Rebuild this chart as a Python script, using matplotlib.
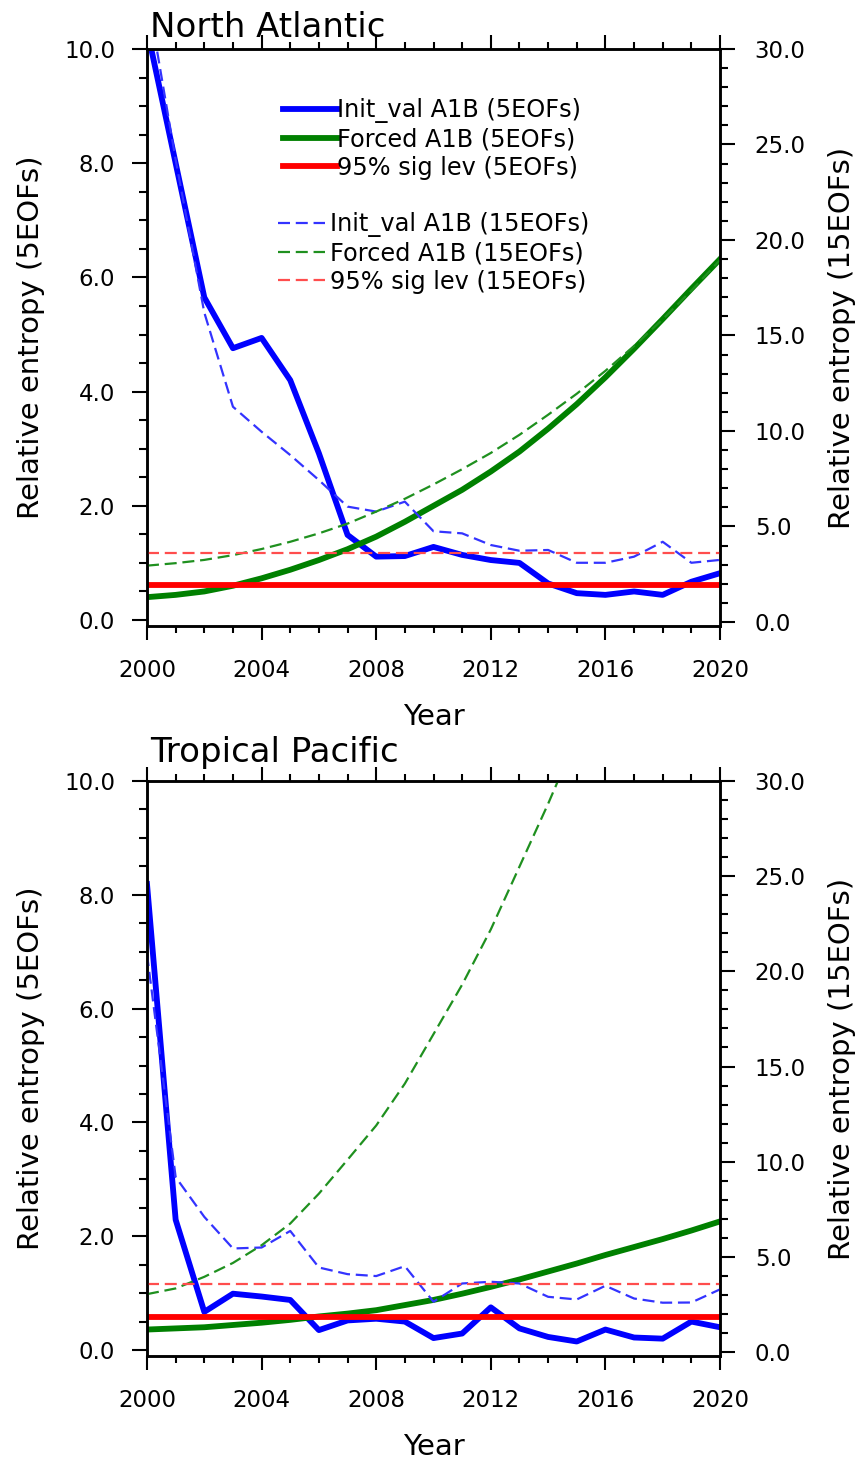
import numpy as np
import matplotlib
matplotlib.use("Agg")
import matplotlib.pyplot as plt
from matplotlib.ticker import MultipleLocator, FormatStrFormatter

# values
years = list(range(2000, 2021))

# North Atlantic, left scale (5 EOFs)
na_init5 = [10.35, 8.0, 5.65, 4.76, 4.94, 4.2, 2.92, 1.49, 1.11, 1.12, 1.28,
            1.14, 1.05, 1.0, 0.64, 0.47, 0.44, 0.5, 0.44, 0.67, 0.82]
na_forced5 = [0.40, 0.44, 0.50, 0.60, 0.73, 0.88, 1.05, 1.24, 1.46, 1.72, 2.0,
              2.28, 2.6, 2.95, 3.35, 3.78, 4.25, 4.75, 5.27, 5.8, 6.32]
na_sig5 = 0.61
# North Atlantic, right scale (15 EOFs)
na_init15 = [33.0, 24.2, 16.2, 11.27, 9.96, 8.74, 7.43, 6.04, 5.78, 6.3, 4.75,
             4.64, 4.03, 3.73, 3.77, 3.1, 3.1, 3.42, 4.2, 3.1, 3.25]
na_forced15 = [2.95, 3.08, 3.25, 3.5, 3.82, 4.2, 4.64, 5.15, 5.78, 6.45, 7.2,
               8.0, 8.85, 9.8, 10.85, 11.95, 13.15, 14.45, 15.85, 17.35, 18.95]
na_sig15 = 3.6

# Tropical Pacific, left scale (5 EOFs)
tp_init5 = [8.19, 2.29, 0.67, 0.99, 0.94, 0.88, 0.35, 0.52, 0.55, 0.50, 0.21,
            0.29, 0.75, 0.38, 0.23, 0.15, 0.36, 0.22, 0.20, 0.50, 0.40]
tp_forced5 = [0.36, 0.38, 0.40, 0.44, 0.48, 0.53, 0.59, 0.64, 0.70, 0.79, 0.88,
              0.99, 1.11, 1.24, 1.38, 1.52, 1.67, 1.81, 1.95, 2.10, 2.26]
tp_sig5 = 0.58
# Tropical Pacific, right scale (15 EOFs)
tp_init15 = [20.9, 9.19, 7.1, 5.44, 5.49, 6.36, 4.44, 4.09, 3.99, 4.51, 2.64,
             3.6, 3.69, 3.6, 2.9, 2.76, 3.48, 2.81, 2.59, 2.6, 3.29]
tp_forced15_years = list(range(2000, 2017))
tp_forced15 = [3.04, 3.34, 3.95, 4.68, 5.61, 6.75, 8.32, 10.1, 11.9, 14.1,
               16.7, 19.3, 22.2, 25.5, 28.8, 32.3, 36.0]
tp_sig15 = 3.57

labels5 = ["Init_val A1B (5EOFs)", "Forced A1B (5EOFs)", "95% sig lev (5EOFs)"]
labels15 = ["Init_val A1B (15EOFs)", "Forced A1B (15EOFs)", "95% sig lev (15EOFs)"]

c_blue, c_green, c_red = "#0000ff", "#008000", "#ff0000"
d_blue, d_green, d_red = "#3333ff", "#1f901f", "#ff4d4d"
lw_thick, lw_thin = 4.2, 1.6
dash = (5.4, 2.6)

W, H = 858, 1462
fig = plt.figure(figsize=(W / 100, H / 100), dpi=100)


def style_axes(ax, ax2):
    ax.set_xlim(2000, 2020)
    ax.set_ylim(-0.105, 10)
    ax2.set_ylim(-0.21, 30)
    ax.xaxis.set_major_locator(MultipleLocator(4))
    ax.xaxis.set_minor_locator(MultipleLocator(1))
    ax.yaxis.set_major_locator(MultipleLocator(2))
    ax.yaxis.set_minor_locator(MultipleLocator(0.5))
    ax.yaxis.set_major_formatter(FormatStrFormatter("%.1f"))
    ax2.yaxis.set_major_locator(MultipleLocator(5))
    ax2.yaxis.set_minor_locator(MultipleLocator(1))
    ax2.yaxis.set_major_formatter(FormatStrFormatter("%.1f"))
    for a in (ax, ax2):
        for s in a.spines.values():
            s.set_linewidth(1.8)
    ax.tick_params(axis="x", which="both", direction="out", top=True, width=1.5)
    ax.tick_params(axis="x", which="major", length=10, labelsize=16.5, pad=14)
    ax.tick_params(axis="x", which="minor", length=5)
    ax.tick_params(axis="y", which="both", direction="out", right=False, width=1.5)
    ax.tick_params(axis="y", which="major", length=11, labelsize=16.5, pad=12)
    ax.tick_params(axis="y", which="minor", length=5.5)
    ax2.tick_params(axis="y", which="both", direction="out", width=1.5)
    ax2.tick_params(axis="y", which="major", length=11, labelsize=16.5, pad=14)
    ax2.tick_params(axis="y", which="minor", length=5.5)
    ax.set_xlabel("Year", fontsize=21, labelpad=15)
    ax.set_ylabel("Relative entropy (5EOFs)", fontsize=21, labelpad=14)
    ax2.set_ylabel("Relative entropy (15EOFs)", fontsize=21, labelpad=16)


def panel(rect, title, title_y, init5, forced5, sig5, init15, f15_years, forced15, sig15):
    ax = fig.add_axes(rect)
    ax2 = ax.twinx()
    h1, = ax.plot(years, init5, color=c_blue, lw=lw_thick, label=labels5[0])
    h2, = ax.plot(years, forced5, color=c_green, lw=lw_thick, label=labels5[1])
    h3, = ax.plot(years, [sig5] * len(years), color=c_red, lw=lw_thick, label=labels5[2])
    g1, = ax2.plot(years, init15, color=d_blue, lw=lw_thin, dashes=dash, label=labels15[0])
    g2, = ax2.plot(f15_years, forced15, color=d_green, lw=lw_thin, dashes=dash, label=labels15[1])
    g3, = ax2.plot(years, [sig15] * len(years), color=d_red, lw=lw_thin, dashes=dash, label=labels15[2])
    style_axes(ax, ax2)
    ax.text(0.005, title_y, title, transform=ax.transAxes, fontsize=24.5,
            ha="left", va="baseline")
    return ax, ax2, (h1, h2, h3), (g1, g2, g3)


ax, ax2, solid, dashed = panel(
    [147 / W, 1 - 626 / H, 573 / W, 577 / H], "North Atlantic", 1.021,
    na_init5, na_forced5, na_sig5, na_init15, years, na_forced15, na_sig15)

leg1 = ax2.legend(handles=list(solid), loc="upper left", frameon=False,
                  bbox_to_anchor=(283 / W, 1 - 98 / H), bbox_transform=fig.transFigure,
                  fontsize=17.3, handlelength=2.25, handletextpad=0.0,
                  labelspacing=0.18, borderpad=0, borderaxespad=0)
ax2.add_artist(leg1)
ax2.legend(handles=list(dashed), loc="upper left", frameon=False,
           bbox_to_anchor=(278 / W, 1 - 212 / H), bbox_transform=fig.transFigure,
           fontsize=17.3, handlelength=1.95, handletextpad=0.2,
           labelspacing=0.18, borderpad=0, borderaxespad=0)

panel([147 / W, 1 - 1356 / H, 573 / W, 575 / H], "Tropical Pacific", 1.033,
      tp_init5, tp_forced5, tp_sig5, tp_init15, tp_forced15_years, tp_forced15, tp_sig15)

fig.savefig("out.png", dpi=100)
